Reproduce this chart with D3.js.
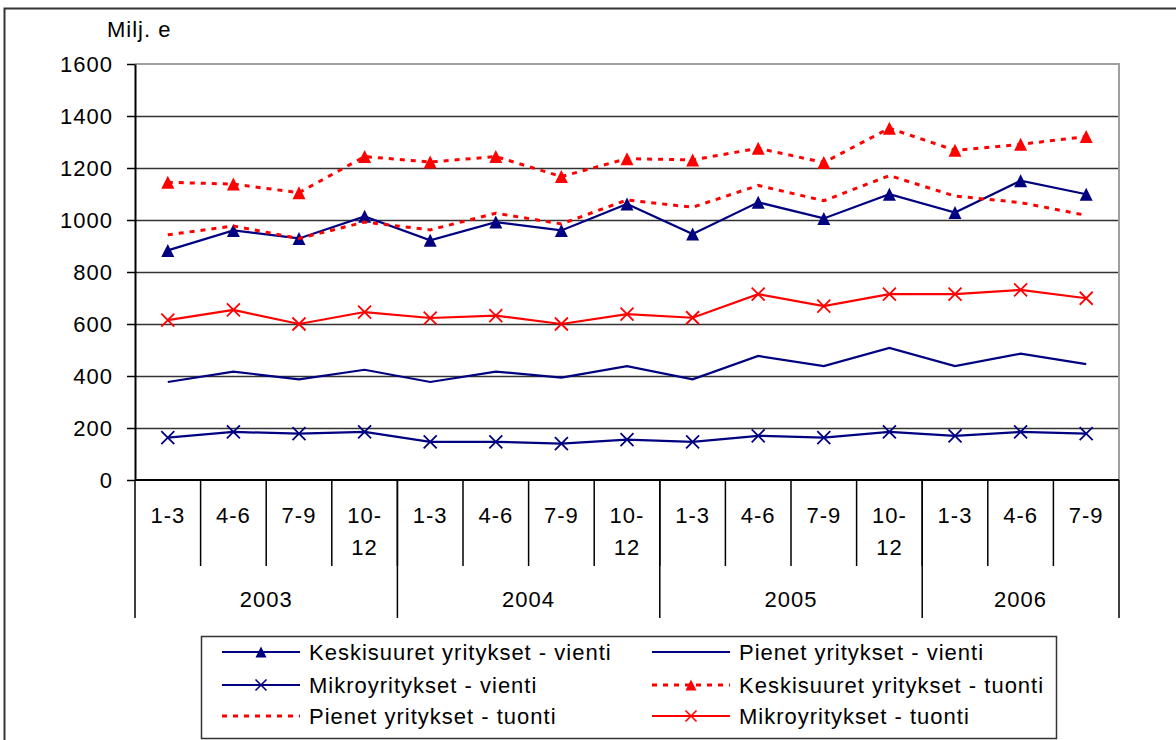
<!DOCTYPE html>
<html>
<head>
<meta charset="utf-8">
<script src="https://cdn.jsdelivr.net/npm/d3@7"></script>
<style>
  body { margin: 0; background: #fff; }
  svg text { font-family: "Liberation Sans", Arial, sans-serif; font-size: 22px; letter-spacing: 1px; fill: #000; }
</style>
</head>
<body>
<div id="chart"></div>
<script>
// data (Milj. e)
var quarters = ["1-3", "4-6", "7-9", "10-12", "1-3", "4-6", "7-9", "10-12",
                "1-3", "4-6", "7-9", "10-12", "1-3", "4-6", "7-9"];
var years = ["2003", "2004", "2005", "2006"];
var quartersPerYear = [4, 4, 4, 3];
var yTicks = [0, 200, 400, 600, 800, 1000, 1200, 1400, 1600];

var keskiVienti  = [883, 960, 929, 1014, 922, 992, 960, 1062, 946, 1068, 1006, 1099, 1029, 1151, 1099];
var pienetVienti = [377, 417, 387, 424, 377, 417, 394, 438, 387, 477, 438, 508, 438, 486, 446];
var mikroVienti  = [163, 185, 178, 185, 147, 147, 140, 155, 147, 170, 163, 185, 170, 185, 178];
var keskiTuonti  = [1145, 1138, 1105, 1244, 1223, 1244, 1167, 1236, 1231, 1276, 1221, 1353, 1268, 1291, 1321];
var pienetTuonti = [943, 977, 929, 992, 962, 1026, 985, 1077, 1049, 1133, 1074, 1171, 1092, 1067, 1018];
var mikroTuonti  = [615, 654, 600, 646, 623, 632, 600, 638, 624, 715, 669, 715, 715, 731, 699];

var navy = "#000080", red = "#ff0000";

var series = [
  {name: "Keskisuuret yritykset - vienti", values: keskiVienti,  color: navy, dash: null,  marker: "tri"},
  {name: "Pienet yritykset - vienti",      values: pienetVienti, color: navy, dash: null,  marker: null},
  {name: "Mikroyritykset - vienti",        values: mikroVienti,  color: navy, dash: null,  marker: "x"},
  {name: "Keskisuuret yritykset - tuonti", values: keskiTuonti,  color: red,  dash: "5,6", marker: "tri"},
  {name: "Pienet yritykset - tuonti",      values: pienetTuonti, color: red,  dash: "5,6", marker: null},
  {name: "Mikroyritykset - tuonti",        values: mikroTuonti,  color: red,  dash: null,  marker: "x"}
];

var W = 1176, H = 740;
var plot = {left: 135, right: 1119, top: 64, bottom: 480};

var svg = d3.select("#chart").append("svg")
    .attr("width", W)
    .attr("height", H);

// outer frame of the chart
svg.append("rect")
    .attr("x", 4.5).attr("y", 8.5)
    .attr("width", W + 20).attr("height", H + 20)
    .attr("fill", "none")
    .attr("stroke", "#333")
    .attr("stroke-width", 2);

var x = d3.scaleBand()
    .domain(d3.range(quarters.length))
    .range([plot.left, plot.right])
    .paddingInner(0).paddingOuter(0);
var y = d3.scaleLinear()
    .domain([0, 1600])
    .range([plot.bottom, plot.top]);

function cx(i) { return x(i) + x.bandwidth() / 2; }

// gridlines
var grid = svg.append("g")
    .attr("transform", "translate(" + plot.left + ",0)")
    .call(d3.axisLeft(y).tickValues(yTicks.slice(1, -1)).tickSize(-(plot.right - plot.left)).tickFormat(""));
grid.select(".domain").remove();
grid.selectAll("line").attr("stroke", "#333").attr("stroke-width", 1.5);

// plot border top & right
svg.append("path")
    .attr("d", "M" + plot.left + "," + plot.top + "H" + plot.right + "V" + plot.bottom)
    .attr("fill", "none")
    .attr("stroke", "#a0a0a0")
    .attr("stroke-width", 2);

// y axis
var yAxis = svg.append("g")
    .attr("transform", "translate(" + plot.left + ",0)")
    .call(d3.axisLeft(y).tickValues(yTicks).tickFormat(d3.format("d"))
        .tickSize(8).tickPadding(14).tickSizeOuter(0));
yAxis.select(".domain").attr("stroke", "#000").attr("stroke-width", 2);
yAxis.selectAll(".tick line").attr("stroke", "#000").attr("stroke-width", 1.5);
yAxis.selectAll("text").attr("font-size", null).attr("font-family", null);

svg.append("text")
    .attr("x", 107).attr("y", 37)
    .text("Milj. e");

// category axis: quarter separators and year separators
var quarterEdges = d3.range(1, quarters.length);
svg.append("g").selectAll("line")
    .data(quarterEdges)
  .enter().append("line")
    .attr("x1", function(d) { return x(d); })
    .attr("x2", function(d) { return x(d); })
    .attr("y1", plot.bottom)
    .attr("y2", 566)
    .attr("stroke", "#000")
    .attr("stroke-width", 1.5);

var yearEdges = [0];
quartersPerYear.forEach(function(n, k) { yearEdges.push(yearEdges[k] + n); });
svg.append("g").selectAll("line")
    .data(yearEdges)
  .enter().append("line")
    .attr("x1", function(d) { return d < quarters.length ? x(d) : plot.right; })
    .attr("x2", function(d) { return d < quarters.length ? x(d) : plot.right; })
    .attr("y1", plot.bottom)
    .attr("y2", 618)
    .attr("stroke", "#000")
    .attr("stroke-width", 1.5);

svg.append("line")
    .attr("x1", plot.left).attr("x2", plot.right)
    .attr("y1", plot.bottom).attr("y2", plot.bottom)
    .attr("stroke", "#000")
    .attr("stroke-width", 2);

// quarter labels ("10-12" wraps after the hyphen)
var qLabels = svg.append("g").selectAll("text")
    .data(quarters)
  .enter().append("text")
    .attr("text-anchor", "middle")
    .attr("x", function(d, i) { return cx(i); })
    .attr("y", 523);
qLabels.each(function(d, i) {
    var t = d3.select(this);
    var parts = d.length > 3 ? [d.slice(0, d.indexOf("-") + 1), d.slice(d.indexOf("-") + 1)] : [d];
    parts.forEach(function(p, k) {
        t.append("tspan")
            .attr("x", cx(i))
            .attr("dy", k == 0 ? 0 : 32)
            .text(p);
    });
});

// year labels
svg.append("g").selectAll("text")
    .data(years)
  .enter().append("text")
    .attr("text-anchor", "middle")
    .attr("x", function(d, k) {
        var a = x(yearEdges[k]);
        var b = yearEdges[k + 1] < quarters.length ? x(yearEdges[k + 1]) : plot.right;
        return (a + b) / 2;
    })
    .attr("y", 607)
    .text(function(d) { return d; });

// markers
function triPath(s) { return "M0," + (-s) + "L" + s + "," + s + "L" + (-s) + "," + s + "Z"; }
function xPath(s) { return "M" + (-s) + "," + (-s) + "L" + s + "," + s + "M" + (-s) + "," + s + "L" + s + "," + (-s); }

function drawMarker(g, type, color) {
    if (type == "tri") {
        g.append("path").attr("d", triPath(6.5)).attr("fill", color);
    } else if (type == "x") {
        g.append("path").attr("d", xPath(6.5)).attr("fill", "none")
            .attr("stroke", color).attr("stroke-width", 1.8);
    }
}

var line = d3.line()
    .x(function(d, i) { return cx(i); })
    .y(function(d) { return y(d); });

series.forEach(function(s) {
    var g = svg.append("g");
    g.append("path")
        .datum(s.values)
        .attr("d", line)
        .attr("fill", "none")
        .attr("stroke", s.color)
        .attr("stroke-width", s.dash ? 3 : 2.2)
        .attr("stroke-dasharray", s.dash);
    if (s.marker) {
        g.selectAll(".m")
            .data(s.values)
          .enter().append("g")
            .attr("class", "m")
            .attr("transform", function(d, i) { return "translate(" + cx(i) + "," + y(d) + ")"; })
            .each(function() { drawMarker(d3.select(this), s.marker, s.color); });
    }
});

// legend
var legend = svg.append("g");
legend.append("rect")
    .attr("x", 201.5).attr("y", 636.5)
    .attr("width", 855).attr("height", 102)
    .attr("fill", "#fff")
    .attr("stroke", "#333")
    .attr("stroke-width", 1.5);

var colX = [222, 652];
var rowY = [652, 685, 716];
var items = legend.selectAll(".item")
    .data(series)
  .enter().append("g")
    .attr("class", "item")
    .attr("transform", function(d, i) { return "translate(" + colX[i % 2] + "," + rowY[Math.floor(i / 2)] + ")"; });
items.append("line")
    .attr("x1", 0).attr("x2", 78)
    .attr("y1", 0).attr("y2", 0)
    .attr("stroke", function(d) { return d.color; })
    .attr("stroke-width", function(d) { return d.dash ? 3 : 2; })
    .attr("stroke-dasharray", function(d) { return d.dash; });
items.each(function(d) {
    if (d.marker) {
        var m = d3.select(this).append("g").attr("transform", "translate(39,0)");
        if (d.marker == "tri") m.append("path").attr("d", triPath(5.5)).attr("fill", d.color);
        else m.append("path").attr("d", xPath(5.5)).attr("fill", "none").attr("stroke", d.color).attr("stroke-width", 1.6);
    }
});
items.append("text")
    .attr("x", 87)
    .attr("y", 8)
    .text(function(d) { return d.name; });
</script>
</body>
</html>
